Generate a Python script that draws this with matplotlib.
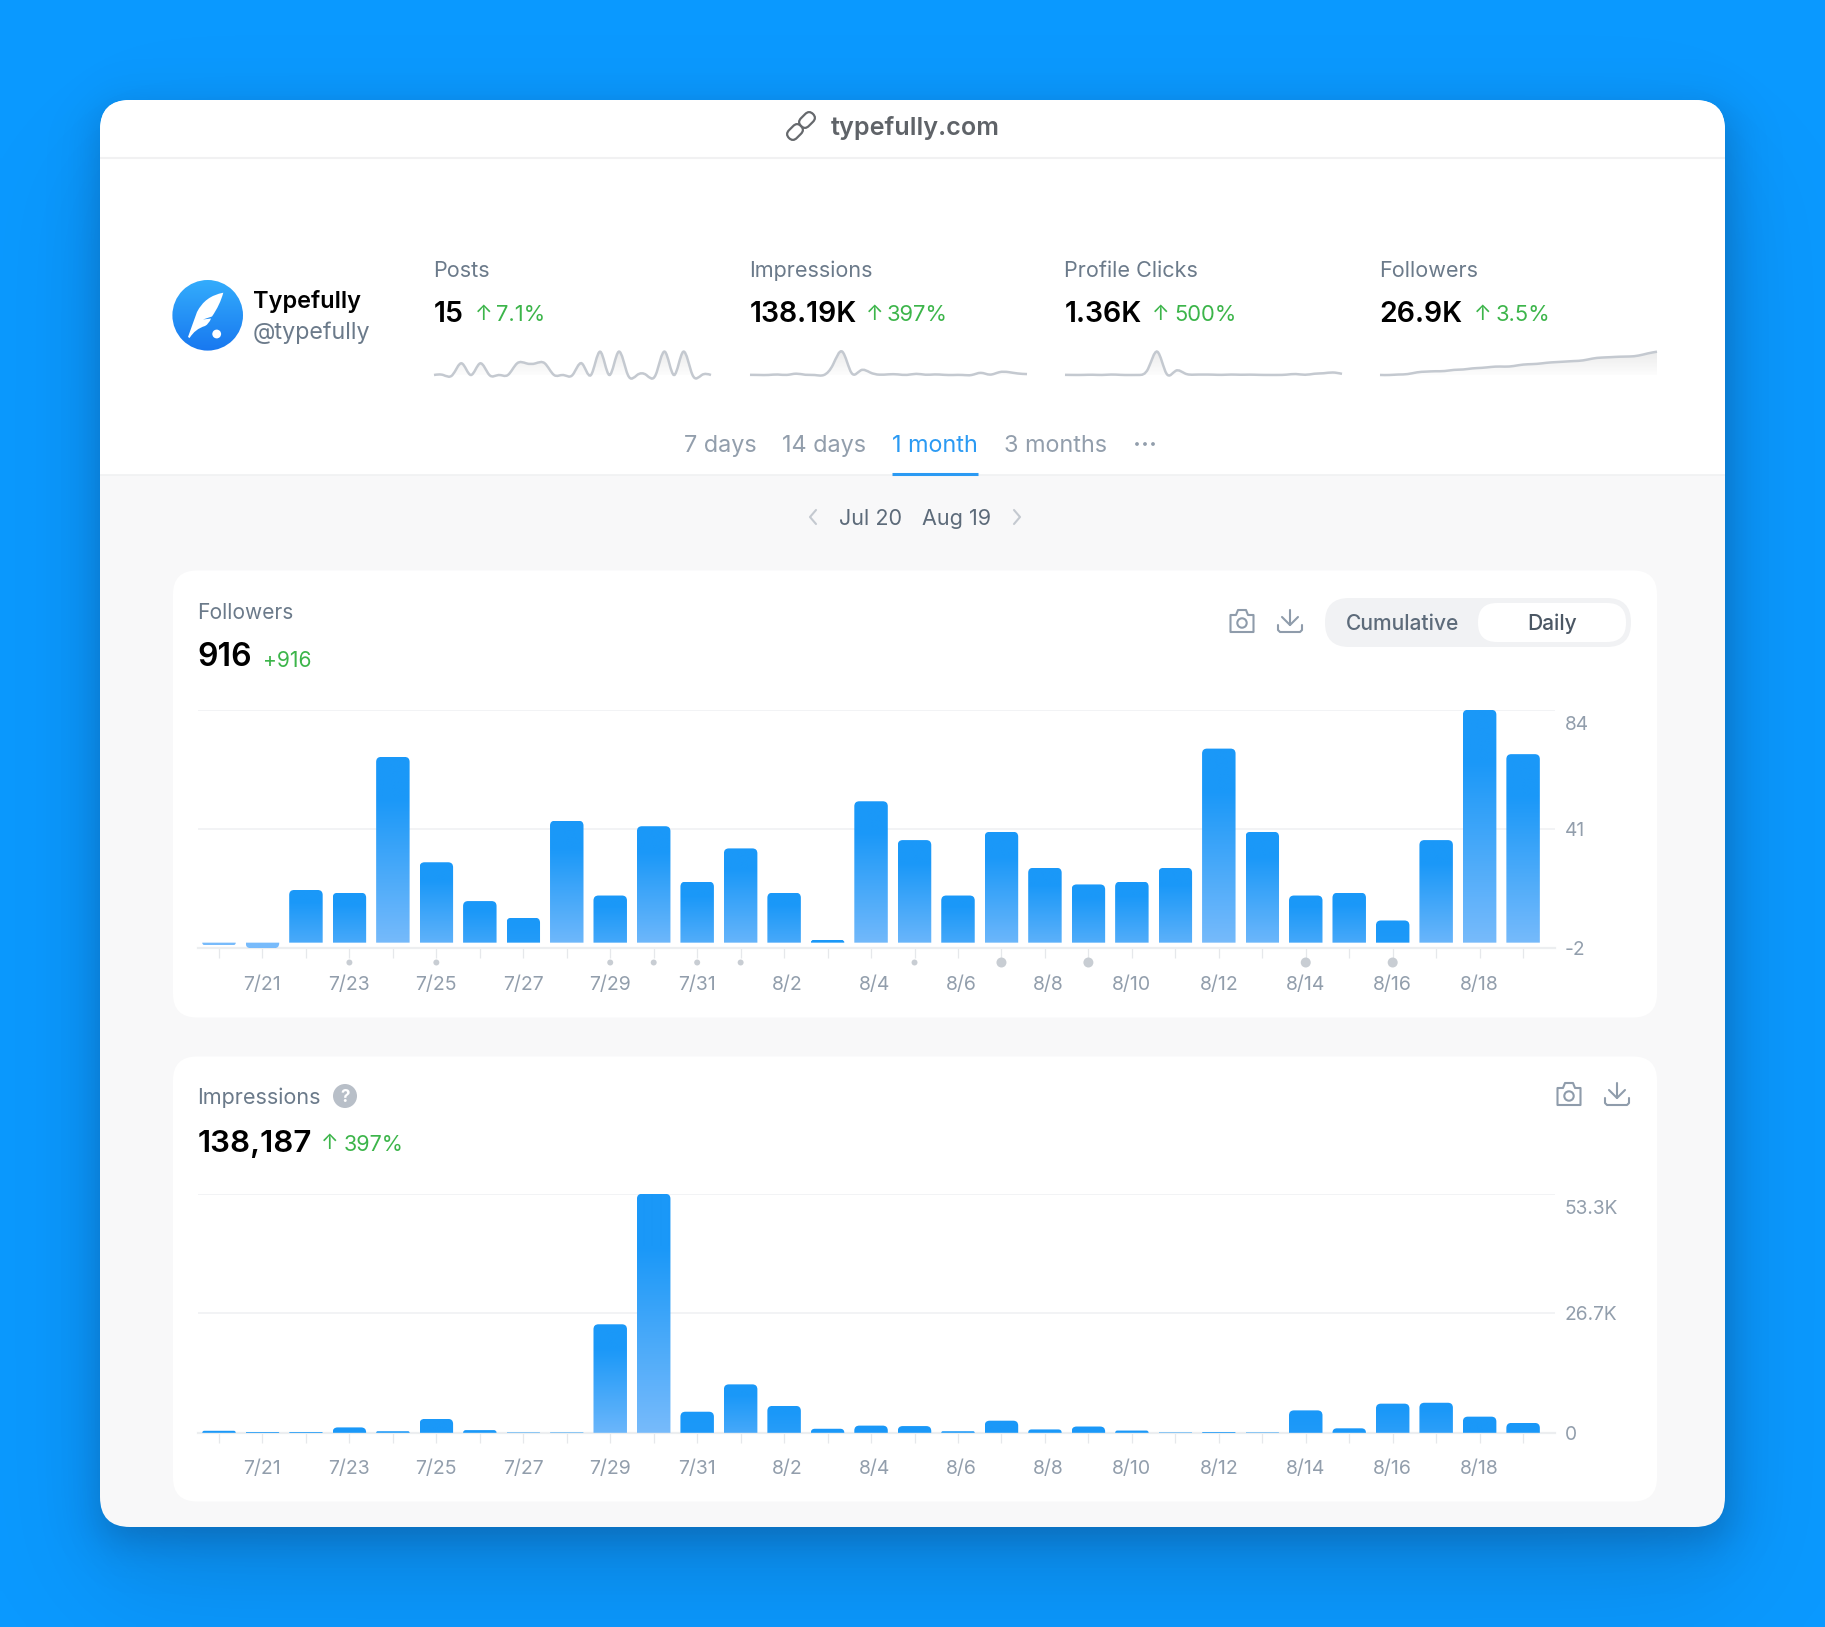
import numpy as np
import matplotlib
matplotlib.use('Agg')
import matplotlib.pyplot as plt
from matplotlib.patches import FancyBboxPatch, PathPatch, Circle, Rectangle
from matplotlib.path import Path
from matplotlib.transforms import ScaledTranslation, Affine2D
from matplotlib.ticker import FixedLocator, FixedFormatter

plt.rcParams['font.family'] = ['Inter', 'DejaVu Sans']

# datos
day_labels = ['', '7/21', '', '7/23', '', '7/25', '', '7/27', '', '7/29', '', '7/31', '', '8/2', '', '8/4',
              '', '8/6', '', '8/8', '', '8/10', '', '8/12', '', '8/14', '', '8/16', '', '8/18', '']
followers_daily = [-1, -2, 19, 18, 67, 29, 15, 9, 44, 17, 42, 22, 34, 18, 1, 51,
                   37, 17, 40, 27, 21, 22, 27, 70, 40, 17, 18, 8, 37, 84, 68]
impressions_daily = [450, 200, 200, 1200, 350, 3100, 600, 100, 100, 24200, 53300, 4700, 10800, 6000, 900, 1600,
                     1500, 350, 2700, 750, 1400, 500, 100, 200, 100, 5000, 1000, 6500, 6700, 3600, 2200]
posts_daily = [0, 0, 0, 1, 0, 1, 0, 0, 0, 1, 1, 1, 1, 0, 0, 0,
               1, 0, 2, 0, 2, 0, 0, 0, 0, 2, 0, 2, 0, 0, 0]
clicks_daily = [8, 6, 7, 10, 6, 14, 8, 5, 6, 130, 470, 30, 90, 35, 12, 14,
                12, 8, 14, 10, 12, 8, 6, 6, 12, 24, 10, 30, 40, 55, 28]
followers_ticks = [84, 41, -2]
followers_tick_labels = ['84', '41', '-2']
impressions_ticks = [53300, 26650, 0]
impressions_tick_labels = ['53.3K', '26.7K', '0']
stat_names = ['Posts', 'Impressions', 'Profile Clicks', 'Followers']
stat_values = ['15', '138.19K', '1.36K', '26.9K']
stat_changes = ['7.1%', '397%', '500%', '3.5%']

BLUE_BG = '#0a99ff'
SLATE = '#6b7a8a'
MUTED = '#929eac'
GREEN = '#3cb54a'
BAR_TOP = np.array([0x1a, 0x98, 0xf8]) / 255
BAR_LOW = np.array([0x78, 0xbb, 0xfb]) / 255
DAY_PX = 43.47

fig = plt.figure(figsize=(18.25, 16.27), dpi=100)
fig.patch.set_facecolor(BLUE_BG)

# capa de fondo en pixeles
bg = fig.add_axes([0, 0, 1, 1], zorder=0)
bg.axis('off')


def txt(x, y, s, px, color, weight='normal', ha='left'):
    return bg.text(x, y + 0.36 * px, s, fontsize=px * 0.72, color=color, fontweight=weight, ha=ha, va='baseline')


def rbox(x0, y0, x1, y1, r, **kw):
    p = FancyBboxPatch((x0, y0), x1 - x0, y1 - y0, boxstyle=f'round,pad=0,rounding_size={r}', **kw)
    bg.add_patch(p)
    return p


def stroke(xs, ys, color, lw=1.5):
    bg.plot(xs, ys, color=color, lw=lw, solid_capstyle='round', solid_joinstyle='round')


def soft_edge(coords, lo, hi, sigma):
    return 1 / (1 + np.exp(-(coords - lo) / sigma * 1.7)) * 1 / (1 + np.exp((coords - hi) / sigma * 1.7))


# sombra de la tarjeta, dos capas
xx = np.arange(0, 1825, 5.0)
yy = np.arange(0, 1627, 5.0)
for dy, sigma, alpha in [(12, 22, 0.30), (60, 60, 0.15)]:
    shade = np.zeros((len(yy), len(xx), 4))
    shade[..., 0], shade[..., 1], shade[..., 2] = 0x10 / 255, 0x20 / 255, 0x40 / 255
    shade[..., 3] = alpha * np.outer(soft_edge(yy, 100 + dy, 1527 + dy, sigma), soft_edge(xx, 100, 1725, sigma))
    bg.imshow(shade, extent=[0, 1825, 1627, 0], aspect='auto', interpolation='bilinear', zorder=0)

card = rbox(100, 100, 1725, 1527, 30, fc='#f8f8f9', ec='none', zorder=1)
top = Rectangle((100, 100), 1625, 375, fc='white', ec='none', zorder=1)
bg.add_patch(top)
top.set_clip_path(card)
bg.plot([100, 1725], [158, 158], color='#f1f1f2', lw=1.5, solid_capstyle='butt', zorder=1)
bg.plot([100, 1725], [475, 475], color='#f0f1f2', lw=1.2, solid_capstyle='butt', zorder=1)

# cabecera
txt(831, 126, 'typefully.com', 25.2, '#5f6368', 'semibold')
for cx, cy in [(795, 132), (807, 120)]:
    link = FancyBboxPatch((cx - 5.5, cy - 8.5), 11, 17, boxstyle='round,pad=0,rounding_size=5.5', fc='none', ec='#66696d', lw=1.6,
                          transform=Affine2D().rotate_deg_around(cx, cy, 45) + bg.transData, zorder=2)
    bg.add_patch(link)

# avatar
av_top = np.array([0x33, 0xac, 0xfc]) / 255
av_bot = np.array([0x18, 0x78, 0xf0]) / 255
av_grad = av_top + (av_bot - av_top) * np.linspace(0, 1, 80)[:, None, None]
av_img = bg.imshow(av_grad, extent=[172, 244, 351, 280], aspect='auto', zorder=2)
av_img.set_clip_path(Circle((207.7, 315.3), 35.3, transform=bg.transData))
feather = Path([(223.3, 292.7), (205, 296), (197, 312), (193, 323), (188, 337), (189.6, 338), (195, 329), (205, 326),
                (209, 324), (211, 318.5), (203, 319.5), (212, 316.5), (220, 305), (223.3, 292.7)],
               [Path.MOVETO, Path.CURVE3, Path.CURVE3, Path.CURVE3, Path.CURVE3, Path.LINETO, Path.CURVE3, Path.CURVE3,
                Path.CURVE3, Path.CURVE3, Path.LINETO, Path.LINETO, Path.CURVE3, Path.CURVE3])
bg.add_patch(PathPatch(feather, fc='white', ec='none', zorder=3))
bg.add_patch(Circle((216.7, 334), 4.4, fc='white', ec='none', zorder=3))
txt(253, 300, 'Typefully', 23.5, 'black', 'semibold')
txt(253, 331, '@typefully', 23.3, SLATE)

# estadisticas
stat_x = [434, 750, 1065, 1380]
arrow_x = [484, 875, 1161, 1483]
change_x = [496, 887, 1174, 1496]
for sx, ax_, cx, name, value, change in zip(stat_x, arrow_x, change_x, stat_names, stat_values, stat_changes):
    txt(sx - 0.7, 269, name, 21.6, SLATE)
    txt(sx - 0.7, 312, value, 28.4, 'black', 'semibold')
    txt(ax_, 312, '↑', 21, GREEN, ha='center')
    txt(cx, 313, change, 22, GREEN)

# pestañas
txt(684, 444, '7 days', 23.4, MUTED)
txt(782, 444, '14 days', 23.4, MUTED)
txt(892, 444, '1 month', 23.4, '#2b9af3')
txt(1004, 444, '3 months', 23.4, MUTED)
for dx in (1137, 1145, 1153):
    bg.add_patch(Circle((dx, 444), 1.9, fc=MUTED, ec='none'))
bg.plot([892, 978], [474, 474], color='#2b9af3', lw=2.2, solid_capstyle='butt')

# rango de fechas
txt(839, 517, 'Jul 20', 21.6, '#5d6b7a')
txt(922, 517, 'Aug 19', 21.6, '#5d6b7a')
stroke([816, 810, 816], [510, 517, 524], '#c4c9d0')
stroke([1014, 1020, 1014], [510, 517, 524], '#c4c9d0')

# tarjetas internas
rbox(173, 570.5, 1657, 1017.5, 24, fc='white', ec='none')
rbox(173, 1056.5, 1657, 1501.5, 24, fc='white', ec='none')


def camera(cx, cy, c='#8f9cab'):
    body = Path([(cx - 11.5, cy - 4), (cx - 11.5, cy - 7), (cx - 6, cy - 7), (cx - 4, cy - 12), (cx + 4, cy - 12), (cx + 6, cy - 7),
                 (cx + 11.5, cy - 7), (cx + 11.5, cy - 4), (cx + 11.5, cy + 10), (cx - 11.5, cy + 10), (cx - 11.5, cy - 4)])
    bg.add_patch(PathPatch(body, fc='none', ec=c, lw=1.5, joinstyle='round'))
    bg.add_patch(Circle((cx, cy + 1), 4.7, fc='none', ec=c, lw=1.5))


def download(cx, cy, c='#8f9cab'):
    stroke([cx, cx], [cy - 12, cy + 3], c)
    stroke([cx - 8, cx, cx + 8], [cy - 5, cy + 3, cy - 5], c)
    stroke([cx - 12, cx - 12, cx - 10, cx + 10, cx + 12, cx + 12], [cy + 3, cy + 8, cy + 10, cy + 10, cy + 8, cy + 3], c)


# cabecera de Followers
txt(197.5, 611, 'Followers', 21, SLATE)
txt(197.5, 654.5, '916', 32, 'black', 'semibold')
txt(263, 659, '+916', 21, GREEN)
camera(1242, 622)
download(1290, 622)
rbox(1325, 598, 1631, 647, 24, fc='#f1f2f4', ec='none')
rbox(1478, 603, 1626, 642, 19, fc='white', ec='none')
txt(1403, 622, 'Cumulative', 21, '#5d6b7a', 'medium', 'center')
txt(1552, 622, 'Daily', 21, '#4b5764', 'medium', 'center')

# cabecera de Impressions
txt(197.5, 1096, 'Impressions', 21.6, SLATE)
bg.add_patch(Circle((345, 1096), 12, fc='#b8bfc8', ec='none'))
txt(345, 1096, '?', 17, 'white', 'bold', 'center')
txt(197.5, 1140.5, '138,187', 31.3, 'black', 'semibold')
txt(330, 1141, '↑', 21, GREEN, ha='center')
txt(344, 1143, '397%', 21.6, GREEN)
camera(1569, 1095)
download(1617, 1095)

bg.set_xlim(0, 1825)
bg.set_ylim(1627, 0)


def px_axes(x0, y_top, x1, y_bot):
    return fig.add_axes([x0 / 1825, 1 - y_bot / 1627, (x1 - x0) / 1825, (y_bot - y_top) / 1627], zorder=2)


def bar_colors(height_px):
    # degradado segun la altura de la barra
    n = max(int(height_px), 2)
    t = np.linspace(0, 1, n)
    amount = np.clip(1 - np.exp(-(height_px - 20) / 45), 0, 1)
    f = np.clip((t - 0.22) / 0.78, 0, 1) * amount
    col = BAR_TOP + (BAR_LOW - BAR_TOP) * f[:, None]
    return col[:, None, :]


def draw_bars(ax, values, y_scale):
    # y_scale: pixeles por unidad
    w = 0.77
    for i, v in enumerate(values):
        h_px = abs(v) * y_scale
        r = min(5, h_px, 33 / 2)
        rx, ry = r / DAY_PX, r / y_scale
        x0, x1 = i - w / 2, i + w / 2
        if v >= 0:
            verts = [(x0, 0), (x0, v - ry), (x0, v), (x0 + rx, v), (x1 - rx, v), (x1, v), (x1, v - ry), (x1, 0), (x0, 0)]
            rgb = bar_colors(h_px)
            ext = [x0, x1, 0, v]
        else:
            verts = [(x0, 0), (x0, v + ry), (x0, v), (x0 + rx, v), (x1 - rx, v), (x1, v), (x1, v + ry), (x1, 0), (x0, 0)]
            rgb = np.ones((2, 1, 3)) * BAR_LOW
            ext = [x0, x1, v, 0]
        codes = [Path.MOVETO, Path.LINETO, Path.CURVE3, Path.CURVE3, Path.LINETO, Path.CURVE3, Path.CURVE3, Path.LINETO, Path.CLOSEPOLY]
        im = ax.imshow(rgb, extent=ext, origin='upper', aspect='auto', interpolation='bilinear', zorder=3)
        im.set_clip_path(PathPatch(Path(verts, codes), transform=ax.transData))


def draw_chart(y_top, y_bot, ylim, values, ticks, tick_labels, top_dy):
    ax = px_axes(198, y_top, 1555, y_bot)
    ax.patch.set_alpha(0)
    y_scale = (y_bot - y_top) / (ylim[1] - ylim[0])
    draw_bars(ax, values, y_scale)
    ax.set_xlim((198 - 219) / DAY_PX, (1555 - 219) / DAY_PX)
    ax.set_ylim(*ylim)
    for s in ('top', 'left', 'right'):
        ax.spines[s].set_visible(False)
    ax.spines['bottom'].set_color('#eceef0')
    ax.spines['bottom'].set_linewidth(1.6)
    for t in ticks[:2]:
        ax.axhline(t, color='#f1f2f4', lw=1.3, zorder=1)
    ax.xaxis.set_major_locator(FixedLocator(range(31)))
    ax.xaxis.set_major_formatter(FixedFormatter(day_labels))
    ax.tick_params(axis='x', length=7.2, width=0.9, color='#e6e8eb', labelcolor=MUTED, labelsize=14, pad=12.5)
    for i, lab in enumerate(ax.get_xticklabels()):
        if lab.get_text().startswith('8/') and len(lab.get_text()) == 3:
            lab.set_transform(lab.get_transform() + ScaledTranslation(3.5 / 100, 0, fig.dpi_scale_trans))
    ax.yaxis.tick_right()
    ax.yaxis.set_major_locator(FixedLocator(ticks))
    ax.yaxis.set_major_formatter(FixedFormatter(tick_labels))
    ax.tick_params(axis='y', length=0, labelcolor=MUTED, labelsize=13.8, pad=7)
    for tick, dy in zip(ax.yaxis.get_major_ticks(), top_dy):
        tick.label2.set_transform(tick.label2.get_transform() + ScaledTranslation(0, -dy / 100, fig.dpi_scale_trans))
    return ax


ax1 = draw_chart(709.8, 948.2, (-2, 84), followers_daily, followers_ticks, followers_tick_labels, [13, 0, 0])
ax2 = draw_chart(1193.8, 1432.8, (0, 53300), impressions_daily, impressions_ticks, impressions_tick_labels, [13, 0, 0])

# marcas de publicaciones
post_x = [i for i, p in enumerate(posts_daily) if p > 0]
post_s = [(4.3 if posts_daily[i] == 1 else 7.2) ** 2 for i in post_x]
ax1.scatter(post_x, [-0.06] * len(post_x), s=post_s, color='#c8cdd3', linewidths=0,
            transform=ax1.get_xaxis_transform(), clip_on=False, zorder=4)


def natural_path(y):
    # spline natural como bezier
    y = np.asarray(y, dtype=float)
    n = len(y) - 1
    A = np.zeros((n, n))
    b = np.zeros(n)
    A[0, 0], A[0, 1], b[0] = 2, 1, y[0] + 2 * y[1]
    for i in range(1, n - 1):
        A[i, i - 1], A[i, i], A[i, i + 1] = 1, 4, 1
        b[i] = 4 * y[i] + 2 * y[i + 1]
    A[n - 1, n - 2], A[n - 1, n - 1], b[n - 1] = 2, 7, 8 * y[n - 1] + y[n]
    c1 = np.linalg.solve(A, b)
    c2 = np.zeros(n)
    c2[:-1] = 2 * y[1:n] - c1[1:]
    c2[-1] = (y[n] + c1[n - 1]) / 2
    verts, codes = [(0, y[0])], [Path.MOVETO]
    for i in range(n):
        verts += [(i + 1 / 3, c1[i]), (i + 2 / 3, c2[i]), (i + 1, y[i + 1])]
        codes += [Path.CURVE4] * 3
    return verts, codes


def sparkline(x0, values):
    ax = px_axes(x0, 351.7, x0 + 277, 375)
    ax.axis('off')
    vals = np.asarray(values, dtype=float)
    lo, hi = vals.min(), vals.max()
    verts, codes = natural_path(vals)
    floor = lo - (hi - lo) * 0.13
    fill = Path(verts + [(30, floor), (0, floor), (0, floor)], codes + [Path.LINETO, Path.LINETO, Path.CLOSEPOLY])
    grad = np.zeros((40, 1, 4))
    grad[..., :3] = 0.86
    grad[:, 0, 3] = np.linspace(0.55, 0, 40)
    im = ax.imshow(grad, extent=[0, 30, floor, hi], origin='upper', aspect='auto', zorder=1)
    im.set_clip_path(PathPatch(fill, transform=ax.transData))
    ax.add_patch(PathPatch(Path(verts, codes), fc='none', ec='#c4c9d0', lw=1.8, clip_on=False, zorder=2))
    ax.set_xlim(0, 30)
    ax.set_ylim(lo, hi)


sparkline(434, posts_daily)
sparkline(750, impressions_daily)
sparkline(1065, clicks_daily)
sparkline(1380, np.cumsum(followers_daily))

fig.savefig('out.png', dpi=100, facecolor=fig.get_facecolor())
